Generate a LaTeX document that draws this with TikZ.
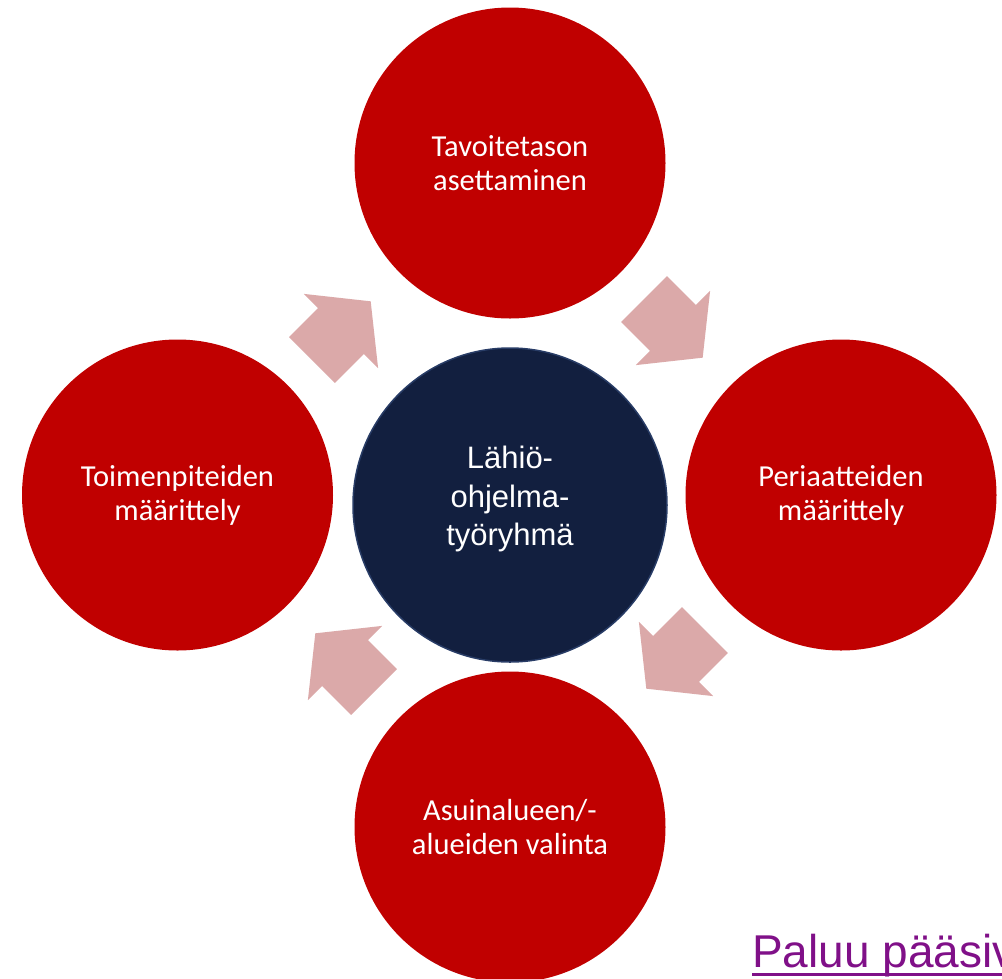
\documentclass[tikz,border=0pt]{standalone}
\usepackage{fontspec}
\setmainfont{Carlito}
\newfontfamily\arialf{Liberation Sans}
\definecolor{cred}{RGB}{192,0,0}
\definecolor{cnavy}{RGB}{18,31,63}
\definecolor{cnavyedge}{RGB}{40,60,102}
\definecolor{cpink}{RGB}{219,169,169}
\definecolor{clink}{RGB}{128,16,136}
\tikzset{
  stepcircle/.style={circle, fill=cred, draw=none, minimum size=311pt, inner sep=0pt,
    text=white, align=center, font=\fontsize{30.5}{34}\selectfont},
  hubcircle/.style={circle, fill=cnavy, draw=cnavyedge, line width=1.5pt, minimum size=314pt, inner sep=0pt},
  hubtext/.style={text=white, align=center, inner sep=0pt, font=\arialf\fontsize{31}{38.5}\selectfont},
  blockarrow/.pic={\fill[cpink] (0,-32.5) -- (41,-32.5) -- (41,-52.5) -- (83,0) -- (41,52.5) -- (41,32.5) -- (0,32.5) -- cycle;}
}
\begin{document}
\begin{tikzpicture}[x=1pt,y=-1pt]
\useasboundingbox (0,0) rectangle (1002,978);
\clip (0,0) rectangle (1002,978);
\node[stepcircle] (top) at (510,163) {Tavoitetason\\asettaminen};
\node[stepcircle] (right) at (841,495) {Periaatteiden\\määrittely};
\node[stepcircle] (bottom) at (510,827) {Asuinalueen/-\\alueiden valinta};
\node[stepcircle] (left) at (177.5,495) {Toimenpiteiden\\määrittely};
\node[hubcircle] (hub) at (510,505) {};
\node[hubtext] (hublabel) at (510,499) {Lähiö-\\ohjelma-\\työryhmä};
\pic[rotate=45] at (312,360) {blockarrow};
\pic[rotate=-45] at (644,299) {blockarrow};
\pic[rotate=-135] at (705,630) {blockarrow};
\pic[rotate=135] at (374,692) {blockarrow};
\node[anchor=base west, inner sep=0pt, text=clink, font=\arialf\fontsize{46}{50}\selectfont] (link) at (752,967) {Paluu pääsivulle};
\draw[clink, line width=3pt] (752,974.5) -- (1010,974.5);
\end{tikzpicture}
\end{document}
